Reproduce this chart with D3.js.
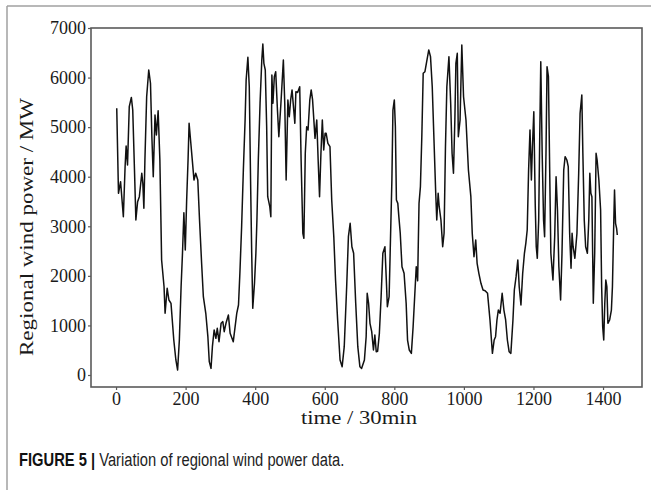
<!DOCTYPE html>
<html>
<head>
<meta charset="utf-8">
<script src="https://cdn.jsdelivr.net/npm/d3@7/dist/d3.min.js"></script>
<style>
  html, body { margin: 0; padding: 0; background: #fff; }
  svg { display: block; }
</style>
</head>
<body>
<svg id="chart" width="651" height="490"></svg>
<script>
// ---- data ----
const timeSteps = [2,7,13,21,26,29,33,38,44,48,53,57,62,67,74,77,80,83,88,94,99,103,107,112,116,121,126,131,138,141,147,152,158,166,172,177,182,187,191,195,199,203,207,210,215,220,224,229,235,240,246,251,258,264,268,273,277,282,287,291,296,302,307,311,316,323,328,337,347,352,356,361,366,371,374,379,383,387,390,393,398,402,405,409,414,419,422,425,429,433,436,442,445,448,451,455,459,464,468,474,481,485,489,494,498,502,506,510,514,517,522,528,532,537,540,544,548,552,557,561,565,572,577,581,585,589,593,597,601,604,609,615,620,626,631,637,644,650,656,663,668,673,678,683,689,695,701,706,714,719,722,726,730,735,740,744,748,752,757,762,767,773,777,780,785,788,793,796,800,803,806,810,813,817,822,828,834,838,843,849,854,859,863,867,871,875,879,883,888,893,899,904,909,914,919,922,926,929,934,939,943,947,951,957,962,966,970,974,977,981,984,989,994,999,1006,1013,1020,1024,1029,1034,1038,1043,1049,1055,1061,1068,1075,1082,1087,1091,1095,1099,1104,1110,1115,1120,1125,1130,1135,1141,1145,1150,1155,1159,1164,1169,1174,1178,1182,1186,1190,1194,1197,1201,1205,1208,1211,1215,1218,1221,1225,1229,1232,1236,1239,1243,1247,1250,1256,1261,1265,1269,1273,1278,1282,1287,1291,1296,1300,1304,1308,1311,1314,1319,1325,1330,1334,1339,1342,1346,1350,1355,1359,1362,1365,1368,1372,1376,1380,1383,1388,1393,1396,1399,1402,1405,1408,1411,1414,1419,1424,1427,1431,1433,1436,1439,1441];
const windPower = [5380,3665,3900,3193,4200,4620,4236,5413,5600,5346,4135,3127,3497,3597,4069,3867,3362,4337,5614,6153,5885,4808,4001,5245,4842,5332,4337,2320,1781,1245,1749,1513,1446,706,303,101,706,1781,2455,3274,2522,3530,4337,5077,4674,4270,3934,4069,3934,3127,2253,1580,1245,773,269,134,571,908,740,942,672,1043,1076,874,1043,1210,841,672,1245,1412,2052,2992,4136,5144,5951,6409,5816,3799,2455,1345,1850,2455,3127,4337,5481,6355,6677,6288,6153,5009,3597,3395,3194,6052,5481,6018,6119,5346,4808,5481,6355,5481,3934,5548,5211,5548,5750,5413,5077,5716,5700,5816,4337,2859,2758,4472,5009,4942,5548,5750,5548,4774,5144,4337,3597,4472,5144,4539,4875,4875,4674,4606,3530,2790,1916,1110,303,168,571,1781,2790,3060,2588,2455,1446,571,168,134,303,773,1648,1446,1043,874,504,807,470,480,841,1580,2455,2588,1916,1378,1580,2455,3934,5346,5548,5009,3530,3463,3194,2859,2185,2052,1446,706,504,437,974,1648,2185,1900,3463,3799,4808,6086,6119,6321,6557,6422,5816,4741,3665,3127,3665,3395,3127,2588,2859,4606,5816,6422,5481,4472,4069,5144,6288,6490,4808,5144,6657,5614,5144,4136,3597,2859,2387,2723,2253,2052,1850,1715,1700,1648,1110,437,706,773,1110,1311,1245,1648,1311,1110,706,470,437,1110,1715,1983,2320,1781,1412,2052,2455,2656,2925,4136,4942,3934,4606,5312,3463,2588,2354,3127,4808,6321,4472,3127,2790,4472,6220,6018,3934,2455,1916,2790,4001,3329,2185,1513,2455,4136,4404,4337,4202,2859,2152,2859,2588,2354,2859,4069,5278,5648,4472,3127,2588,2455,3127,4069,3665,3597,1446,2455,4472,4337,3934,3329,1781,974,706,1446,1916,1781,1043,1110,1311,1781,3127,3732,3060,2959,2824];
const xTicks = [0,200,400,600,800,1000,1200,1400];
const yTicks = [0,1000,2000,3000,4000,5000,6000,7000];
const xTitle = "time / 30min";
const yTitle = "Regional wind power / MW";
const captionBold = "FIGURE 5 |";
const captionText = "Variation of regional wind power data.";

const svg = d3.select("#chart");
const serif = "'Liberation Serif','Times New Roman',serif";
const sans = "'Liberation Sans',Arial,sans-serif";

// page border
svg.append("line").attr("x1", 7).attr("x2", 651).attr("y1", 6).attr("y2", 6)
  .attr("stroke", "#a0a0a0").attr("stroke-width", 1.5);
svg.append("line").attr("x1", 7).attr("x2", 7).attr("y1", 6).attr("y2", 490)
  .attr("stroke", "#a0a0a0").attr("stroke-width", 1.5);

const L = 91, R = 642, T = 28, B = 387;
const x = d3.scaleLinear().domain([-72, 1512]).range([L, R]);
const y = d3.scaleLinear().domain([-242, 7000]).range([B, T]);

const data = timeSteps.map((t, i) => ({ t, v: windPower[i] }));

// data line
svg.append("path").datum(data)
  .attr("fill", "none").attr("stroke", "#111").attr("stroke-width", 1.5)
  .attr("stroke-linejoin", "round")
  .attr("d", d3.line().x(d => x(d.t)).y(d => y(d.v)));

// frame
svg.append("rect").attr("x", L).attr("y", T).attr("width", R - L).attr("height", B - T)
  .attr("fill", "none").attr("stroke", "#5a5a5a").attr("stroke-width", 1.6);

// axes
const xAxis = svg.append("g").attr("transform", `translate(0,${B})`)
  .call(d3.axisBottom(x).tickValues(xTicks).tickSize(3).tickPadding(2).tickFormat(d3.format("d")));
const yAxis = svg.append("g").attr("transform", `translate(${L},0)`)
  .call(d3.axisLeft(y).tickValues(yTicks).tickSize(3).tickPadding(2).tickFormat(d3.format("d")));
[xAxis, yAxis].forEach(g => {
  g.select(".domain").remove();
  g.selectAll(".tick line").attr("stroke", "#5a5a5a").attr("stroke-width", 1.2);
  g.selectAll(".tick text").attr("font-family", serif).attr("font-size", 18).attr("fill", "#1a1a1a");
});

// axis titles
svg.append("text").attr("x", 359).attr("y", 424).attr("text-anchor", "middle")
  .attr("font-family", serif).attr("font-size", 18).attr("fill", "#1a1a1a")
  .attr("textLength", 116).attr("lengthAdjust", "spacingAndGlyphs")
  .text(xTitle);
svg.append("text").attr("transform", "translate(33,227) rotate(-90)").attr("text-anchor", "middle")
  .attr("font-family", serif).attr("font-size", 19.5).attr("fill", "#1a1a1a")
  .attr("textLength", 258).attr("lengthAdjust", "spacingAndGlyphs")
  .text(yTitle);

// caption (condensed sans, emulated with a horizontal scale)
const cap = svg.append("text").attr("transform", "translate(19,466) scale(0.775,1)")
  .attr("font-family", sans).attr("font-size", 19).attr("fill", "#222");
cap.append("tspan").attr("font-weight", "bold").attr("fill", "#111").text(captionBold + " ");
cap.append("tspan").text(captionText);
</script>
</body>
</html>
